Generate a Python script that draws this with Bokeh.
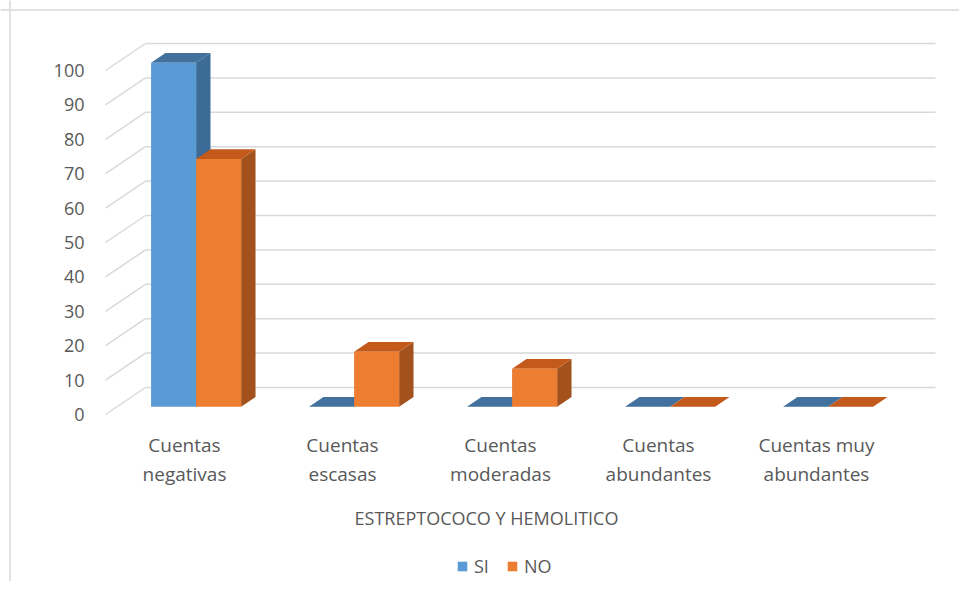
import numpy as np
from bokeh.plotting import figure
from bokeh.models import Range1d, Legend, LegendItem, Span
from bokeh.core.properties import value
from bokeh.embed import file_html
from bokeh.resources import INLINE

# ---------------- data ----------------
categories = ["Cuentas\nnegativas", "Cuentas\nescasas", "Cuentas\nmoderadas",
              "Cuentas\nabundantes", "Cuentas muy\nabundantes"]
series_names = ["SI", "NO"]
si_values = [100, 0, 0, 0, 0]
no_values = [72, 16, 11, 0, 0]
y_ticks = [0, 10, 20, 30, 40, 50, 60, 70, 80, 90, 100]
y_tick_labels = [str(t) for t in y_ticks]
axis_title = "ESTREPTOCOCO Y HEMOLITICO"

# ---------------- layout (pixels) ----------------
W, H = 959, 581
X0_PX = 105.0     # canvas x of front-plane start of first category
CAT_PX = 158.0    # pixels per category
Y0_PX = 414.0     # canvas y (from top) of value 0 on the front plane
UNIT_PX = 3.44    # pixels per value unit
DEPTH_X_PX = 40.0
DEPTH_Y_PX = 27.0

def px2x(px):
    return (px - X0_PX) / CAT_PX

def px2y(py):
    return (Y0_PX - py) / UNIT_PX

DX = DEPTH_X_PX / CAT_PX
DY = DEPTH_Y_PX / UNIT_PX

def proj(x, y, d):
    return x + d * DX, y + d * DY

FONT = value("Open Sans")
TXT = "#595959"
GRID = "#d9d9d9"

p = figure(width=W, height=H, output_backend="svg", toolbar_location=None,
           x_range=Range1d(px2x(0), px2x(W)), y_range=Range1d(px2y(H), px2y(0)),
           x_axis_type=None, y_axis_type=None, min_border=0,
           background_fill_color="white", border_fill_color="white")
p.outline_line_color = None
p.xgrid.visible = False
p.ygrid.visible = False

# chart border (left & top only, as in the cropped reference)
p.add_layout(Span(location=px2x(9.5), dimension="height", line_color=GRID, line_width=1.5))
p.add_layout(Span(location=px2y(9.5), dimension="width", line_color=GRID, line_width=1.5))

n = len(categories)

# ---------------- walls / gridlines ----------------
gx, gy = [], []
for t in y_ticks:
    a = proj(0, t, 1)
    b = proj(n, t, 1)
    gx.append([a[0], b[0]]); gy.append([a[1], b[1]])
    c = proj(0, t, 0)
    gx.append([c[0], a[0]]); gy.append([c[1], a[1]])
p.multi_line(gx, gy, line_color=GRID, line_width=1.5)

# ---------------- 3D bars ----------------
BAR_W = 0.285
GAP = 0.5 - BAR_W
D0, D1 = 0.29, 0.65
colors = {
    "SI": ("#5B9BD5", "#41719C", "#3C6B98"),   # front, top, side
    "NO": ("#ED7D31", "#C35A1B", "#A3521D"),
}
front_renderers = {}
for s, (name, vals) in enumerate(zip(series_names, [si_values, no_values])):
    fx, fy, tx, ty, sx, sy = [], [], [], [], [], []
    for i, h in enumerate(vals):
        xl = i + GAP + s * BAR_W
        xr = xl + BAR_W
        pts = [proj(xl, 0, D0), proj(xr, 0, D0), proj(xr, h, D0), proj(xl, h, D0)]
        fx.append([q[0] for q in pts]); fy.append([q[1] for q in pts])
        pts = [proj(xl, h, D0), proj(xr, h, D0), proj(xr, h, D1), proj(xl, h, D1)]
        tx.append([q[0] for q in pts]); ty.append([q[1] for q in pts])
        pts = [proj(xr, 0, D0), proj(xr, h, D0), proj(xr, h, D1), proj(xr, 0, D1)]
        sx.append([q[0] for q in pts]); sy.append([q[1] for q in pts])
    front_c, top_c, side_c = colors[name]
    p.patches(sx, sy, fill_color=side_c, line_color=None)
    p.patches(tx, ty, fill_color=top_c, line_color=None)
    front_renderers[name] = p.patches(fx, fy, fill_color=front_c, line_color=None)

# ---------------- texts ----------------
p.text(x=[px2x(84)] * len(y_ticks), y=y_ticks, text=y_tick_labels,
       text_font=FONT, text_font_size="18px", text_color=TXT,
       text_align="right", text_baseline="middle")

p.text(x=[i + 0.5 for i in range(n)], y=[px2y(459)] * n, text=categories,
       text_font=FONT, text_font_size="19px", text_color=TXT,
       text_align="center", text_baseline="middle", text_line_height=1.1)

p.text(x=[px2x(486)], y=[px2y(517)], text=[axis_title],
       text_font=FONT, text_font_size="18px", text_color=TXT,
       text_align="center", text_baseline="middle")

legend = Legend(items=[LegendItem(label=nm, renderers=[front_renderers[nm]]) for nm in series_names],
                orientation="horizontal", location=(456, 3),
                border_line_color=None, background_fill_alpha=0,
                padding=0, margin=0, spacing=12, label_standoff=6,
                glyph_width=12, glyph_height=12,
                label_text_font="Open Sans", label_text_font_size="18px",
                label_text_color=TXT)
p.add_layout(legend)

open("out.html", "w").write(file_html(p, INLINE))
